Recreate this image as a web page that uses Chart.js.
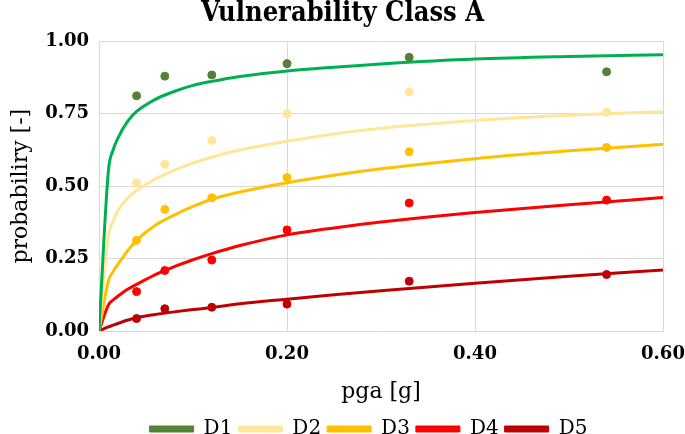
<!DOCTYPE html>
<html>
<head>
<meta charset="utf-8">
<script src="https://cdn.jsdelivr.net/npm/chart.js@4"></script>
<style>
  html, body { margin: 0; padding: 0; background: #fff; }
  #wrap { width: 685px; height: 434px; }
</style>
</head>
<body>
<div id="wrap"><canvas id="myChart"></canvas></div>
<script>
// observed points
const damageStates = ['D1', 'D2', 'D3', 'D4', 'D5'];
const pgaObserved = [0.04, 0.07, 0.12, 0.20, 0.33, 0.54];
const d1Observed = [0.812, 0.880, 0.884, 0.923, 0.945, 0.895];
const d2Observed = [0.511, 0.576, 0.658, 0.750, 0.826, 0.755];
const d3Observed = [0.313, 0.420, 0.460, 0.530, 0.619, 0.634];
const d4Observed = [0.136, 0.209, 0.245, 0.349, 0.442, 0.452];
const d5Observed = [0.043, 0.077, 0.082, 0.093, 0.172, 0.195];

// fitted curves
const pgaCurve = [0, 0.01, 0.015, 0.02, 0.03, 0.04, 0.06, 0.08, 0.10, 0.12, 0.15, 0.20, 0.25, 0.30, 0.40, 0.50, 0.60];
const d1Curve = [0, 0.553, 0.625, 0.665, 0.722, 0.758, 0.80, 0.827, 0.848, 0.862, 0.879, 0.898, 0.911, 0.922, 0.939, 0.948, 0.954];
const d2Curve = [0, 0.33, 0.378, 0.415, 0.458, 0.485, 0.525, 0.555, 0.58, 0.60, 0.625, 0.655, 0.68, 0.70, 0.727, 0.745, 0.757];
const d3Curve = [0, 0.173, 0.205, 0.23, 0.275, 0.313, 0.365, 0.40, 0.43, 0.455, 0.48, 0.512, 0.538, 0.560, 0.595, 0.622, 0.645];
const d4Curve = [0, 0.09, 0.107, 0.12, 0.143, 0.161, 0.195, 0.222, 0.246, 0.267, 0.295, 0.332, 0.356, 0.376, 0.409, 0.436, 0.461];
const d5Curve = [0, 0.014, 0.02, 0.026, 0.037, 0.046, 0.057, 0.066, 0.074, 0.081, 0.094, 0.11, 0.125, 0.139, 0.165, 0.189, 0.211];

const xTicks = [0, 0.2, 0.4, 0.6];
const yTicks = [0, 0.25, 0.5, 0.75, 1];

const pointColors = ['#548235', '#FFE699', '#FFC000', '#FF0000', '#C00000'];
const lineColors = ['#00B050', '#FFE699', '#FFC000', '#FF0000', '#C00000'];

const observed = [d1Observed, d2Observed, d3Observed, d4Observed, d5Observed];
const curves = [d1Curve, d2Curve, d3Curve, d4Curve, d5Curve];

const serif = "'DejaVu Serif', 'Liberation Serif', serif";
const titleSerif = "'DejaVu Serif Condensed', 'DejaVu Serif', serif";

function toXY(xs, ys) {
    return xs.map((x, i) => ({ x: x, y: ys[i] }));
}

const datasets = [];
damageStates.forEach((name, i) => {
    datasets.push({
        label: name,
        data: toXY(pgaObserved, observed[i]),
        backgroundColor: pointColors[i],
        borderColor: pointColors[i],
        pointRadius: 4,
        pointHoverRadius: 4,
        showLine: false,
        order: 1
    });
});
damageStates.forEach((name, i) => {
    datasets.push({
        label: name + ' curve',
        data: toXY(pgaCurve, curves[i]),
        borderColor: lineColors[i],
        backgroundColor: lineColors[i],
        borderWidth: 3,
        pointRadius: 0,
        showLine: true,
        cubicInterpolationMode: 'monotone',
        order: 2
    });
});

// nudge the legend a little right, like the original
const legendShift = {
    id: 'legendShift',
    afterLayout(chart) {
        chart.legend.left += 26;
        chart.legend.right += 26;
    }
};

const ctx = document.getElementById('myChart').getContext('2d');
new Chart(ctx, {
    type: 'scatter',
    data: { datasets: datasets },
    plugins: [legendShift],
    options: {
        responsive: true,
        maintainAspectRatio: false,
        animation: false,
        layout: { padding: { left: 0, right: 0, top: -2, bottom: -15 } },
        plugins: {
            title: {
                display: true,
                text: 'Vulnerability Class A',
                color: '#000',
                font: { family: titleSerif, size: 27, weight: 'bold' },
                padding: { top: 0, bottom: 11 }
            },
            legend: {
                position: 'bottom',
                labels: {
                    filter: item => damageStates.includes(item.text),
                    color: '#000',
                    font: { family: serif, size: 20 },
                    boxWidth: 44,
                    boxHeight: 6,
                    padding: 6
                }
            },
            tooltip: { enabled: false }
        },
        scales: {
            x: {
                type: 'linear',
                min: 0,
                max: 0.6,
                afterBuildTicks: scale => { scale.ticks = xTicks.map(v => ({ value: v })); },
                afterFit: scale => { scale.paddingRight = 22; scale.paddingLeft = 0; },
                ticks: {
                    color: '#000',
                    font: { family: serif, size: 18, weight: 'bold' },
                    padding: 13,
                    callback: v => v.toFixed(2)
                },
                grid: { color: '#d9d9d9', drawTicks: false },
                border: { color: '#d9d9d9' },
                title: {
                    display: true,
                    text: 'pga [g]',
                    color: '#000',
                    font: { family: serif, size: 22 },
                    padding: { top: 0, bottom: 8 }
                }
            },
            y: {
                type: 'linear',
                min: 0,
                max: 1,
                afterBuildTicks: scale => { scale.ticks = yTicks.map(v => ({ value: v })); },
                afterFit: scale => { scale.width = 99; },
                ticks: {
                    color: '#000',
                    font: { family: serif, size: 18, weight: 'bold' },
                    padding: 10,
                    callback: v => v.toFixed(2)
                },
                grid: { color: '#d9d9d9', drawTicks: false },
                border: { color: '#d9d9d9' },
                title: {
                    display: true,
                    text: 'probabiliry [-]',
                    color: '#000',
                    font: { family: serif, size: 22 },
                    padding: { top: 8, bottom: 0 }
                }
            }
        }
    }
});
</script>
</body>
</html>
